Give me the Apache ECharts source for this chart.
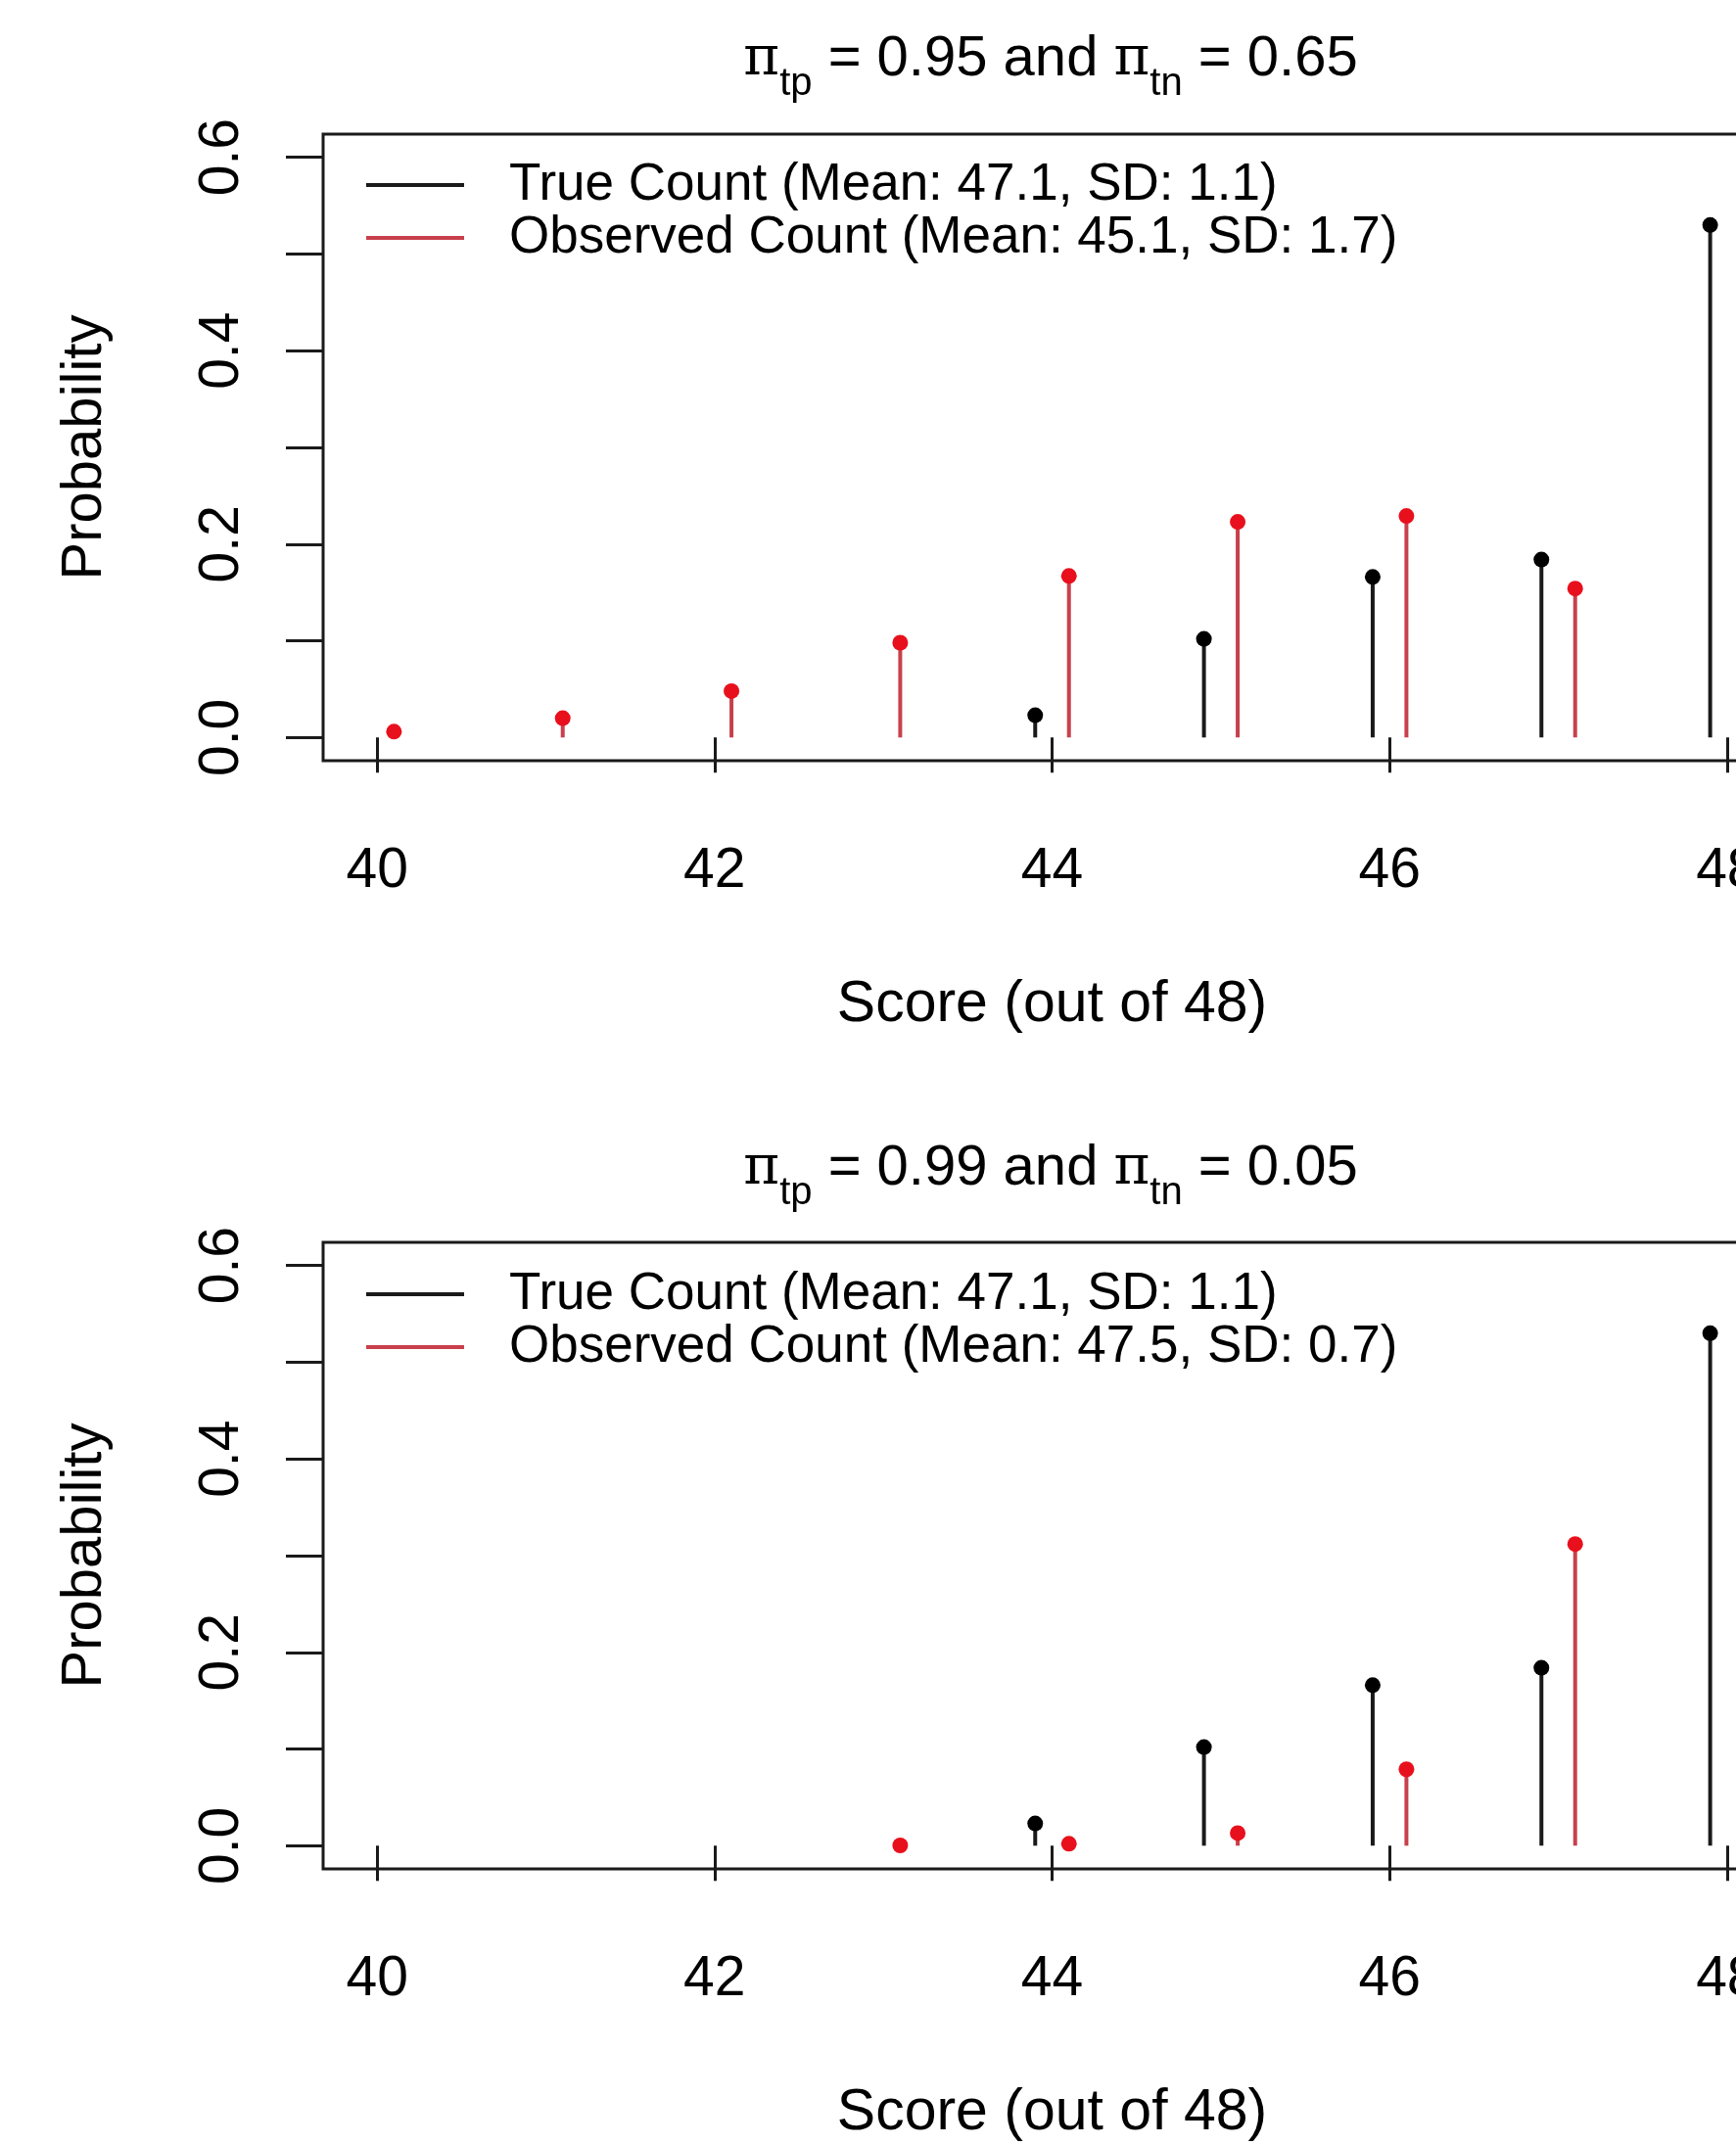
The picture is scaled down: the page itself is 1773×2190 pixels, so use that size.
<!DOCTYPE html>
<html>
<head>
<meta charset="utf-8">
<script src="https://cdn.jsdelivr.net/npm/echarts@6/dist/echarts.min.js"></script>
<style>
  html, body { margin: 0; padding: 0; background: #fff; }
  #chart { width: 1773px; height: 2190px; }
</style>
</head>
<body>
<div id="chart"></div>
<script>
// scores on the x axis
const scores = [40, 41, 42, 43, 44, 45, 46, 47, 48]
// true count distribution (same in both panels)
const trueProb = [null, null, null, null, 0.023, 0.102, 0.166, 0.184, 0.530]
// observed count, pi_tp = 0.95 / pi_tn = 0.65
const obsProbTop = [0.006, 0.020, 0.048, 0.098, 0.167, 0.223, 0.229, 0.154, 0.054]
// observed count, pi_tp = 0.99 / pi_tn = 0.05
const obsProbBottom = [null, null, null, 0.0003, 0.002, 0.013, 0.079, 0.312, 0.594]

const xTicks = [40, 42, 44, 46, 48]
const yTicks = [0, 0.1, 0.2, 0.3, 0.4, 0.5, 0.6]
const yLabels = [0, 0.2, 0.4, 0.6]

const trueName = 'True Count (Mean: 47.1, SD: 1.1)'
const obsNameTop = 'Observed Count (Mean: 45.1, SD: 1.7)'
const obsNameBottom = 'Observed Count (Mean: 47.5, SD: 0.7)'

const FONT = "'Liberation Sans', Arial, sans-serif"
const INK = '#1a1a1a'

function pairs(vals, shift) {
  const out = []
  scores.forEach((s, i) => {
    if (vals[i] !== null) out.push([s + shift, vals[i]])
  })
  return out
}

function stemSeries(name, vals, shift, idx, stemColor, dotColor) {
  return {
    type: 'custom',
    name: name,
    xAxisIndex: idx,
    yAxisIndex: idx,
    itemStyle: { color: stemColor },
    encode: { x: 0, y: 1 },
    clip: false,
    data: pairs(vals, shift),
    renderItem: function (params, api) {
      const base = api.coord([api.value(0), 0])
      const top = api.coord([api.value(0), api.value(1)])
      return {
        type: 'group',
        children: [
          { type: 'line', shape: { x1: base[0], y1: base[1], x2: top[0], y2: top[1] }, style: { stroke: stemColor, lineWidth: 4 } },
          { type: 'circle', shape: { cx: top[0], cy: top[1], r: 8 }, style: { fill: dotColor } }
        ]
      }
    }
  }
}

function titleText(tp, tn) {
  return '{p|π}{s|tp}{n| = ' + tp + ' and }{p|π}{s|tn}{n| = ' + tn + '}'
}

const titleRich = {
  p: { fontSize: 56, fontFamily: "'DejaVu Serif', serif", fontWeight: 'normal', lineHeight: 90, color: '#000' },
  s: { fontSize: 40, fontFamily: FONT, fontWeight: 'normal', lineHeight: 40, verticalAlign: 'bottom', color: '#000' },
  n: { fontSize: 58, fontFamily: FONT, fontWeight: 'normal', lineHeight: 90, color: '#000' }
}

const panels = [
  { top: 137, titleTop: 16, legendTop: 162, obsName: obsNameTop, tp: '0.95', tn: '0.65' },
  { top: 1269, titleTop: 1149, legendTop: 1295, obsName: obsNameBottom, tp: '0.99', tn: '0.05' }
]

function xAxisFor(i) {
  return {
    type: 'value', gridIndex: i, min: 39.68, max: 48.32,
    name: 'Score (out of 48)', nameLocation: 'middle', nameGap: 220,
    nameTextStyle: { fontSize: 59, fontFamily: FONT, color: '#000', lineHeight: 59 },
    axisLine: { show: false },
    splitLine: { show: false },
    axisTick: { show: true, length: 36, customValues: xTicks, lineStyle: { color: INK, width: 3 } },
    axisLabel: { customValues: xTicks, margin: 85, fontSize: 57, fontFamily: FONT, color: '#000', lineHeight: 57 }
  }
}

function yAxisFor(i) {
  return {
    type: 'value', gridIndex: i, min: -0.024, max: 0.624,
    name: 'Probability', nameLocation: 'middle', nameGap: 214,
    nameTextStyle: { fontSize: 58, fontFamily: FONT, color: '#000', lineHeight: 58 },
    axisLine: { show: false },
    splitLine: { show: false },
    axisTick: { show: true, length: 38, customValues: yTicks, lineStyle: { color: INK, width: 3 } },
    axisLabel: {
      customValues: yLabels, rotate: 90, margin: 74, fontSize: 57, fontFamily: FONT, color: '#000', lineHeight: 57,
      formatter: v => v.toFixed(1)
    }
  }
}

const option = {
  backgroundColor: '#fff',
  animation: false,
  title: panels.map(p => ({
    text: titleText(p.tp, p.tn),
    left: 1073, top: p.titleTop, textAlign: 'center', padding: 0,
    textStyle: { fontWeight: 'normal', rich: titleRich }
  })),
  legend: panels.map((p, i) => ({
    orient: 'vertical', left: 374, top: p.legendTop, padding: 0, itemGap: 0,
    itemWidth: 100, itemHeight: 4, icon: 'rect', selectedMode: false,
    data: [trueName, p.obsName],
    formatter: name => '{t|' + name + '}',
    textStyle: {
      fontSize: 53, fontFamily: FONT, color: '#000', lineHeight: 54,
      rich: { t: { fontSize: 53, fontFamily: FONT, color: '#000', lineHeight: 54, padding: [0, 0, 0, 41] } }
    }
  })),
  grid: panels.map(p => ({
    left: 330, top: p.top, width: 1489, height: 640,
    outerBoundsMode: 'none', containLabel: false,
    show: true, borderColor: INK, borderWidth: 3, backgroundColor: 'transparent'
  })),
  xAxis: [xAxisFor(0), xAxisFor(1)],
  yAxis: [yAxisFor(0), yAxisFor(1)],
  series: [
    stemSeries(trueName, trueProb, -0.1, 0, '#1a1a1a', '#000'),
    stemSeries(obsNameTop, obsProbTop, 0.1, 0, '#c8404c', '#e8101c'),
    stemSeries(trueName, trueProb, -0.1, 1, '#1a1a1a', '#000'),
    stemSeries(obsNameBottom, obsProbBottom, 0.1, 1, '#c8404c', '#e8101c')
  ]
}

const myChart = echarts.init(document.getElementById('chart'))
myChart.setOption(option)
</script>
</body>
</html>
